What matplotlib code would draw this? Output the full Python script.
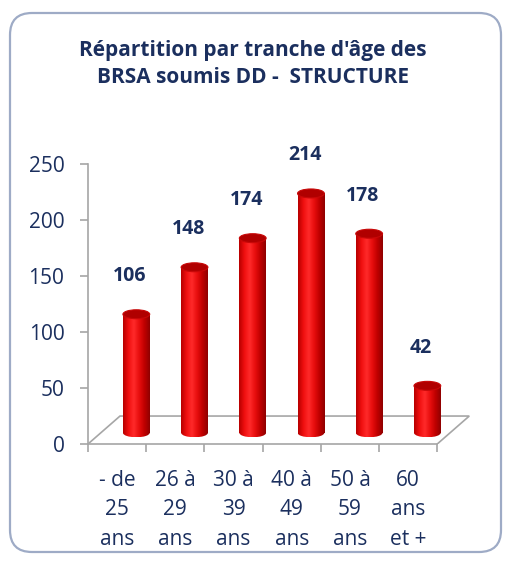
import numpy as np
import matplotlib.pyplot as plt
from matplotlib.patches import Ellipse, FancyBboxPatch
from matplotlib.colors import LinearSegmentedColormap

# --- données du graphique ---
categories = ["- de\n25\nans", "26 à\n29\nans", "30 à\n39\nans",
              "40 à\n49\nans", "50 à\n59\nans", "60\nans\net +"]
values = [106, 148, 174, 214, 178, 42]
yticks = [0, 50, 100, 150, 200, 250]
title = "Répartition par tranche d'âge des\nBRSA soumis DD -  STRUCTURE"

plt.rcParams['font.family'] = ['Open Sans', 'DejaVu Sans']

navy = "#1b2f5e"
grey = "#a6a6a6"

# effet 3D (projection oblique)
depth_x, depth_y = 0.55, 25     # décalage du plan arrière
bar_dx, bar_dy = 0.33, 10       # cylindres à mi-profondeur
bar_w, cap_h = 0.46, 8

red_cmap = LinearSegmentedColormap.from_list(
    "cyl", ["#b80000", "#f01010", "#ff2a2a", "#e80e0e", "#c00000", "#900000"])

fig = plt.figure(figsize=(5.07, 5.61), dpi=100)
fig.patch.set_facecolor("white")

# cadre arrondi + titre (axe de fond en pixels)
bg = fig.add_axes([0, 0, 1, 1], zorder=0)
bg.set_xlim(0, 507)
bg.set_ylim(561, 0)
bg.axis("off")
bg.add_patch(FancyBboxPatch((10, 13), 491, 539, boxstyle="round,pad=0,rounding_size=22",
                            fc="white", ec="#9eabc6", lw=1.6))
bg.text(253, 64, title, ha="center", va="center", fontsize=15, fontweight="bold",
        color=navy, linespacing=1.35)

ax = fig.add_axes([88 / 507, (561 - 444) / 561, 390 / 507, 302 / 561], zorder=1)
ax.patch.set_alpha(0)

# plancher
ax.plot([-0.5, -0.5 + depth_x, 5.5 + depth_x, 5.5], [0, depth_y, depth_y, 0],
        color=grey, lw=1.2, zorder=1, solid_joinstyle="miter")

grad = np.linspace(0, 1, 64).reshape(1, -1)
for i, v in enumerate(values):
    cx = i + bar_dx
    base = bar_dy
    top = base + v
    x0, x1 = cx - bar_w / 2, cx + bar_w / 2
    ax.imshow(grad, cmap=red_cmap, extent=[x0, x1, base, top], aspect="auto", zorder=3)
    bottom = Ellipse((cx, base), bar_w, cap_h, transform=ax.transData)
    im = ax.imshow(grad, cmap=red_cmap, extent=[x0, x1, base - cap_h / 2, base],
                   aspect="auto", zorder=3)
    im.set_clip_path(bottom)
    ax.add_patch(Ellipse((cx, top), bar_w, cap_h, fc="#b00000", ec="#c80808",
                         lw=0.8, zorder=4))
    ax.text(i + 0.22, v + 44, str(v), ha="center", va="center", fontsize=14,
            fontweight="bold", color=navy)

ax.set_xlim(-0.5, 6.2)
ax.set_ylim(0, 270)

for s in ["top", "right"]:
    ax.spines[s].set_visible(False)
ax.spines["left"].set_bounds(0, 250)
ax.spines["bottom"].set_bounds(-0.5, 5.5)
for s in ["left", "bottom"]:
    ax.spines[s].set_color(grey)
    ax.spines[s].set_linewidth(1.2)

ax.set_yticks(yticks)
ax.tick_params(axis="y", length=6, width=1.2, color=grey, labelcolor=navy,
               labelsize=15, pad=11)
ax.set_xticks(range(len(categories)))
ax.set_xticklabels(categories)
ax.set_xticks(np.arange(-0.5, len(categories), 1), minor=True)
ax.tick_params(axis="x", which="major", length=0, labelcolor=navy, labelsize=15, pad=18.5)
ax.tick_params(axis="x", which="minor", length=6, width=1.2, color=grey)
for lbl in ax.get_xticklabels():
    lbl.set_linespacing(1.55)

fig.savefig("out.png", dpi=100)
